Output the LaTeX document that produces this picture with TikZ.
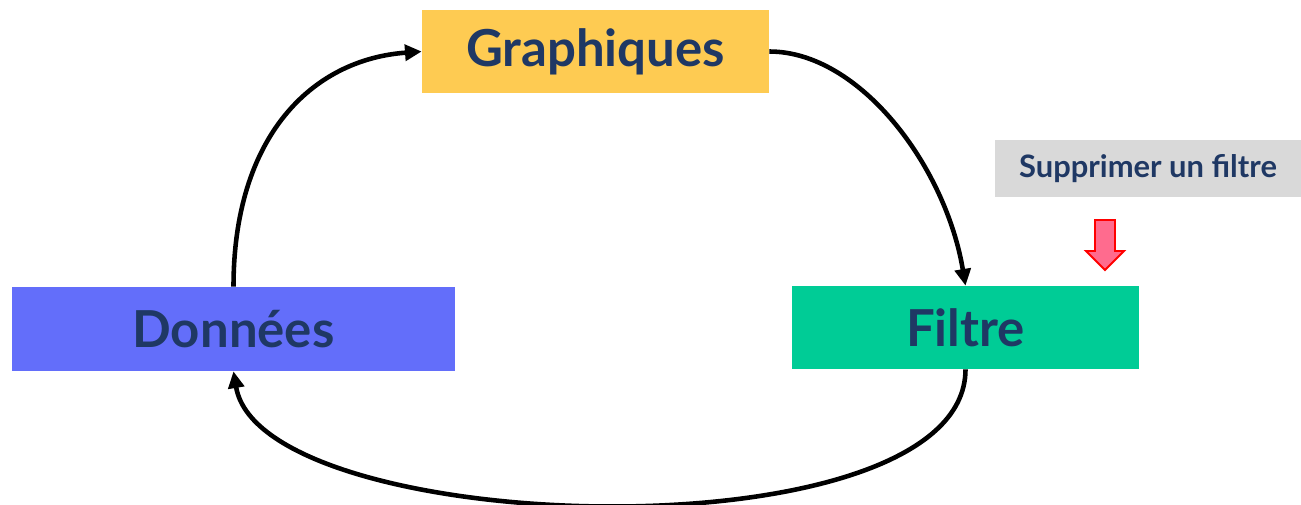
\documentclass[tikz,border=0pt]{standalone}
\usepackage{fontspec}
\setmainfont{Lato}
\usepackage{tikz}
\usetikzlibrary{arrows.meta}
\usepackage{xcolor}
\definecolor{navy}{HTML}{1F3864}
\definecolor{dataBlue}{HTML}{636EFA}
\definecolor{plotYellow}{HTML}{FECB52}
\definecolor{filterGreen}{HTML}{00CC96}
\definecolor{noteGray}{HTML}{D9D9D9}
\definecolor{arrowPink}{HTML}{FF6B8E}

\begin{document}
\begin{tikzpicture}[
    x=0.02cm, y=-0.02cm,
    every node/.style={text=navy},
    box/.style={fill=#1, minimum width=6.94cm, minimum height=1.66cm, inner sep=0pt, font=\fontsize{29}{33}\selectfont\bfseries},
    note/.style={fill=noteGray, minimum width=6.12cm, minimum height=1.14cm, inner sep=0pt, font=\fontsize{17.6}{20}\selectfont\bfseries},
    arr/.style={-{Triangle[length=9.5pt, width=9pt]}, line width=2.6pt, color=#1},
    redarr/.style={draw=red, fill=arrowPink, line width=1.1pt},
]
    \useasboundingbox (0,0) rectangle (1301,504);

    % Boxes
    \node[box=plotYellow] (graph) at (595.5,51.5) {Graphiques};
    \node[box=dataBlue, minimum width=8.86cm, minimum height=1.68cm] (donnees) at (233.5,329) {Données};
    \node[box=filterGreen] (filtre) at (965.5,327.5) {Filtre};

    % Note
    \node[note] (suppr) at (1148,168.5) {Supprimer un filtre};
    \draw[redarr] (1095,220) -- (1115,220) -- (1115,251) -- (1124,251) -- (1105,270) -- (1086,251) -- (1095,251) -- cycle;

    % Key arrows
    \draw[arr=black] (donnees.north) .. controls +(0,-150) and +(-110,8) .. (graph.west);
    \draw[arr=black] (graph.east) .. controls +(90,0) and +(-20,-120) .. (filtre.north);
    \draw[arr=black] (filtre.south) .. controls +(0,190) and +(28,168) .. (donnees.south);
\end{tikzpicture}
\end{document}
